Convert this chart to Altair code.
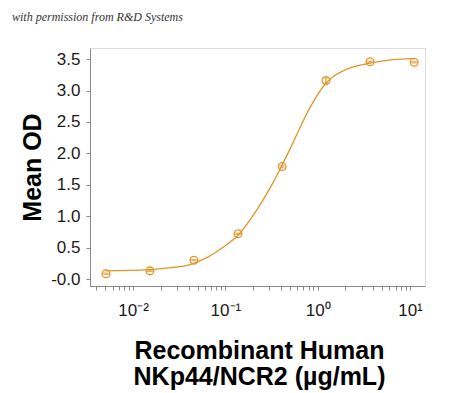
import altair as alt
import pandas as pd

# Measured data (3-fold dilution series)
conc = [0.00508, 0.0152, 0.0457, 0.137, 0.412, 1.23, 3.70, 11.1]
mean_od = [0.085, 0.13, 0.30, 0.72, 1.79, 3.16, 3.46, 3.45]
err = [0.01, 0.01, 0.01, 0.01, 0.02, 0.04, 0.01, 0.01]

# Fitted curve
curve_x = [0.00501, 0.0149, 0.0257, 0.0413, 0.0628, 0.0951, 0.138, 0.219,
           0.333, 0.410, 0.505, 0.597, 0.834, 1.233, 1.92, 3.44, 6.17, 11.04]
curve_y = [0.13, 0.15, 0.18, 0.23, 0.34, 0.51, 0.70, 1.10,
           1.55, 1.81, 2.08, 2.31, 2.74, 3.12, 3.32, 3.43, 3.49, 3.51]

decades = [0.001, 0.01, 0.1, 1, 10]
multipliers = [1, 2, 3, 4, 5, 6, 7, 8, 9]
y_ticks = [0, 0.5, 1.0, 1.5, 2.0, 2.5, 3.0, 3.5]

x_domain = [0.00341, 14.55]
y_domain = [-0.111, 3.678]

x_ticks = [m * d for d in decades for m in multipliers if x_domain[0] <= m * d <= x_domain[1]]

COLOR = "#E0962A"
FONT = "Liberation Sans"

pts = pd.DataFrame({"conc": conc, "od": mean_od, "err": err})
pts["lo"] = pts["od"] - pts["err"]
pts["hi"] = pts["od"] + pts["err"]
crv = pd.DataFrame({"conc": curve_x, "od": curve_y})

xscale = alt.Scale(type="log", domain=x_domain, nice=False)
yscale = alt.Scale(domain=y_domain, nice=False, zero=False)

label_expr = ("datum.value == 0.01 ? '10⁻²' : datum.value == 0.1 ? '10⁻¹' : "
              "datum.value == 1 ? '10⁰' : datum.value == 10 ? '10¹' : ''")

xaxis = alt.Axis(
    values=x_ticks, labelExpr=label_expr, grid=False,
    titleFontSize=25, titleFont=FONT, titleFontWeight="bold", titleColor="#000",
    titleX=169, titleY=72, titleAlign="center", titleBaseline="alphabetic",
    titleLineHeight=26,
    labelFontSize=17, labelFont=FONT, labelColor="#1a1a1a", labelPadding=12,
    labelOverlap=False, labelFlush=False, labelBound=False,
    tickSize=4, tickColor="#8a8a8a", domainColor="#8a8a8a", domainWidth=1,
)
yaxis = alt.Axis(
    values=y_ticks, grid=False,
    labelExpr="datum.value == 0 ? '-0.0' : format(datum.value, '.1f')",
    titleFontSize=25, titleFont=FONT, titleFontWeight="bold",
    titleColor="#000", titleAngle=270, titleX=-58, titleY=119,
    titleAlign="center", titleBaseline="middle",
    labelFontSize=17, labelFont=FONT, labelColor="#1a1a1a", labelPadding=6,
    labelOverlap=False,
    tickSize=4, tickColor="#8a8a8a", domainColor="#8a8a8a", domainWidth=1,
)

X_TITLE = ["Recombinant Human", "NKp44/NCR2 (µg/mL)"]
Y_TITLE = "Mean OD"


def xenc():
    return alt.X("conc:Q", scale=xscale, axis=xaxis, title=X_TITLE)


def yenc(field):
    return alt.Y(field, scale=yscale, axis=yaxis, title=Y_TITLE)


line = alt.Chart(crv).mark_line(color=COLOR, strokeWidth=1.3, interpolate="monotone").encode(
    x=xenc(), y=yenc("od:Q"),
)
bars = alt.Chart(pts).mark_rule(color=COLOR, strokeWidth=1.1).encode(
    x=xenc(), y=yenc("lo:Q"), y2="hi:Q",
)
cap_lo = alt.Chart(pts).mark_tick(color=COLOR, thickness=1.1, size=7, orient="horizontal").encode(
    x=xenc(), y=yenc("lo:Q"),
)
cap_hi = alt.Chart(pts).mark_tick(color=COLOR, thickness=1.1, size=7, orient="horizontal").encode(
    x=xenc(), y=yenc("hi:Q"),
)
points = alt.Chart(pts).mark_point(shape="circle", filled=False, color=COLOR,
                                   size=60, strokeWidth=1.3, opacity=1).encode(
    x=xenc(), y=yenc("od:Q"),
)

chart = alt.layer(line, bars, cap_lo, cap_hi, points).properties(
    width=335, height=238,
    autosize=alt.AutoSizeParams(type="none"),
    padding={"left": 82, "top": 40, "right": 17, "bottom": 106},
    title=alt.TitleParams(
        "with permission from R&D Systems", anchor="start", frame="group",
        font="Liberation Serif", fontStyle="italic", fontSize=12,
        fontWeight="normal", color="#333", dx=-78, offset=24,
    ),
).configure_view(stroke=None).configure(background="white")

chart.save("out.html", embed_options={"renderer": "svg", "actions": False})
